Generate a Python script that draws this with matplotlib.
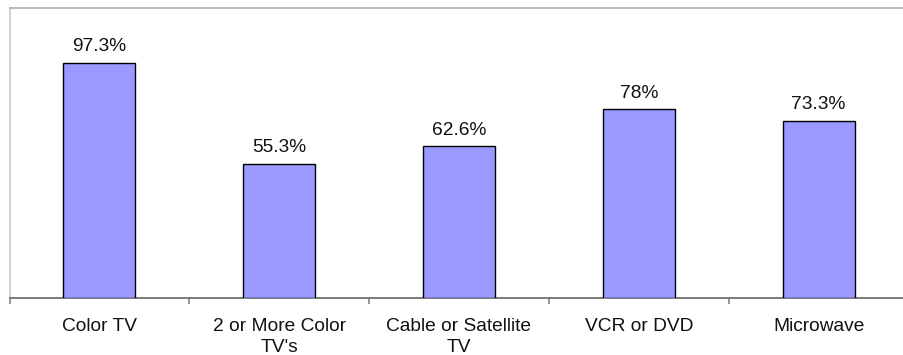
import matplotlib
matplotlib.use("Agg")
import matplotlib.pyplot as plt
import numpy as np

categories = ["Color TV", "2 or More Color\nTV's", "Cable or Satellite\nTV", "VCR or DVD", "Microwave"]
values = [97.3, 55.3, 62.6, 78, 73.3]
value_labels = ["97.3%", "55.3%", "62.6%", "78%", "73.3%"]

plt.rcParams["font.family"] = ["Liberation Sans", "DejaVu Sans"]

fig = plt.figure(figsize=(9.04, 3.55), dpi=100)
left_px, right_px = 9.5, 908.5
bottom_px, top_px = 297.5, 8.0
ax = fig.add_axes([left_px / 904, (355 - bottom_px) / 355,
                   (right_px - left_px) / 904, (bottom_px - top_px) / 355])

x = np.arange(len(categories))
bars = ax.bar(x, values, width=0.4, color="#9999FF", edgecolor="black", linewidth=1.0, zorder=3)

for xi, v, lab in zip(x, values, value_labels):
    ax.annotate(lab, (xi, v), xytext=(0, 5.5), textcoords="offset points",
                ha="center", va="bottom", fontsize=13.8, color="#111111")

ax.set_xlim(-0.5, len(categories) - 0.5)
ax.set_ylim(0, 120)

# category names centred under bars, boundary ticks between them
ax.set_xticks(x)
ax.set_xticklabels(categories, fontsize=13.8, linespacing=1.25, color="#111111")
ax.tick_params(axis="x", which="major", length=0, pad=15)
ax.set_xticks(np.arange(-0.5, len(categories)), minor=True)
ax.tick_params(axis="x", which="minor", length=4, width=1.2, color="#808080", direction="out")
ax.set_yticks([])

ax.spines["top"].set_color("#b0b0b0")
ax.spines["top"].set_linewidth(1.2)
ax.spines["left"].set_color("#c8c8c8")
ax.spines["left"].set_linewidth(1.2)
ax.spines["right"].set_visible(False)
ax.spines["bottom"].set_color("#707070")
ax.spines["bottom"].set_linewidth(1.3)

fig.savefig("out.png", dpi=100)
